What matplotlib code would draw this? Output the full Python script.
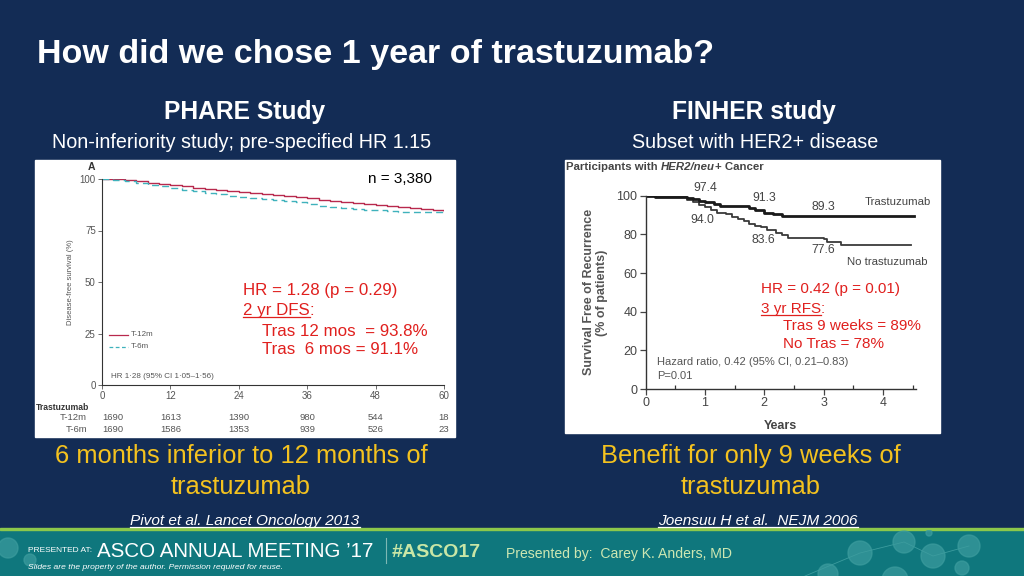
import numpy as np
import matplotlib
matplotlib.use('Agg')
import matplotlib.pyplot as plt
from matplotlib.patches import Rectangle, Circle
from matplotlib.transforms import blended_transform_factory

# PHARE study (months, disease-free survival %)
phare_months = [0, 2, 4, 6, 8, 10, 12, 14, 16, 18, 20, 22, 24, 26, 28, 30,
                32, 34, 36, 38, 40, 42, 44, 46, 48, 50, 52, 54, 56, 58, 60]
phare_12m = [100, 99.9, 99.6, 98.9, 98.3, 97.5, 96.9, 96.4, 95.8, 95.1, 94.7,
             94.3, 93.8, 93.2, 92.6, 92.1, 91.6, 91.1, 90.6, 90.0, 89.5, 88.9,
             88.5, 88.0, 87.5, 87.0, 86.6, 86.0, 85.3, 84.8, 84.6]
phare_6m = [100, 99.6, 98.9, 98.2, 97.3, 96.4, 95.6, 94.8, 94.0, 93.2, 92.5,
            91.7, 91.1, 90.6, 90.2, 89.7, 89.1, 88.6, 87.8, 86.8, 86.2, 85.8,
            85.3, 85.0, 84.8, 84.5, 84.2, 84.0, 83.9, 83.8, 83.8]
risk_ticks = [0, 12, 24, 36, 48, 60]
risk_12m = ['1690', '1613', '1390', '980', '544', '18']
risk_6m = ['1690', '1586', '1353', '939', '526', '23']

# FINHER study (years, recurrence-free %)
tras_years = [0, 0.15, 0.5, 0.7, 0.8, 0.9, 1.0, 1.15, 1.25, 1.75, 1.85, 2.0,
              2.15, 2.3, 4.52]
tras_surv = [100, 99.5, 99.5, 99.0, 98.3, 97.4, 96.8, 95.5, 94.6, 93.5, 92.4,
             91.3, 90.6, 89.3, 89.3]
notras_years = [0, 0.15, 0.55, 0.7, 0.8, 0.9, 1.0, 1.1, 1.2, 1.35, 1.45, 1.55,
                1.65, 1.75, 1.85, 1.95, 2.05, 2.2, 2.3, 2.4, 3.0, 3.05, 3.3, 4.48]
notras_surv = [100, 99.5, 99.2, 98.0, 96.5, 95.0, 94.0, 92.5, 91.3, 90.3, 88.8,
               88.0, 86.8, 85.2, 84.2, 83.6, 82.0, 80.9, 79.6, 78.3, 77.6, 76.0,
               74.3, 74.3]
finher_labels = ['97.4', '91.3', '89.3', '94.0', '83.6', '77.6']
finher_label_x = [1.0, 2.0, 3.0, 0.95, 1.98, 2.99]
finher_label_y = [104, 98.8, 94.2, 87.4, 77.1, 71.9]

W, H = 1024, 576
navy = '#132C55'
teal = '#0F777D'
yellow = '#F4C21F'
red = '#E0201E'
sans = ['Liberation Sans', 'DejaVu Sans']
narrow = ['Liberation Sans Narrow', 'Liberation Sans', 'DejaVu Sans']

fig = plt.figure(figsize=(W / 100, H / 100), dpi=100, facecolor=navy)
bg = fig.add_axes([0, 0, 1, 1])
bg.set_xlim(0, W)
bg.set_ylim(H, 0)
bg.axis('off')

# footer band
bg.add_patch(Rectangle((0, 530), W, 46, color=teal, zorder=1))
bg.add_patch(Rectangle((0, 527.5), W, 2.5, color='#8CC84B', zorder=2))
deco = [(860, 553, 12), (904, 542, 11), (933, 556, 12), (969, 546, 11),
        (962, 568, 7), (929, 533, 3), (828, 574, 10), (895, 580, 13),
        (8, 548, 10), (30, 560, 6)]
clip = Rectangle((0, 530), W, 46, transform=bg.transData)
for cx, cy, r in deco:
    c = Circle((cx, cy), r, color='#3C9C9E', alpha=0.7, zorder=2)
    bg.add_patch(c)
    c.set_clip_path(clip)
bg.plot([805, 860, 904, 933, 969], [576, 553, 542, 556, 546], color='#3C9C9E',
        lw=0.6, zorder=2, clip_path=clip)

# white panels
bg.add_patch(Rectangle((35, 160), 420, 277, color='white', zorder=1))
bg.add_patch(Rectangle((565, 160), 375, 273, color='white', zorder=1))


def txt(x, y, s, **kw):
    kw.setdefault('family', sans)
    kw.setdefault('zorder', 5)
    return bg.text(x, y, s, **kw)


txt(37, 55, 'How did we chose 1 year of trastuzumab?', color='white',
    fontsize=24.5, fontweight='bold', va='center')
txt(245, 112, 'PHARE Study', color='white', fontsize=17.7, fontweight='bold',
    ha='center', va='center')
txt(242, 142, 'Non-inferiority study; pre-specified HR 1.15', color='white',
    fontsize=14.2, ha='center', va='center')
txt(754, 112, 'FINHER study', color='white', fontsize=17.7, fontweight='bold',
    ha='center', va='center')
txt(755, 142, 'Subset with HER2+ disease', color='white', fontsize=14.2,
    ha='center', va='center')

txt(241, 456, '6 months inferior to 12 months of', color=yellow, fontsize=18.4,
    ha='center', va='center')
txt(241, 487, 'trastuzumab', color=yellow, fontsize=18.4, ha='center', va='center')
txt(751, 456, 'Benefit for only 9 weeks of', color=yellow, fontsize=18.4,
    ha='center', va='center')
txt(751, 487, 'trastuzumab', color=yellow, fontsize=18.4, ha='center', va='center')

underlined = []
underlined.append((txt(245, 525, 'Pivot et al. Lancet Oncology 2013', color='white',
                       fontsize=11.1, style='italic', ha='center', va='baseline'), 2, 'white'))
underlined.append((txt(758, 525, 'Joensuu H et al.  NEJM 2006', color='white',
                       fontsize=11.1, style='italic', ha='center', va='baseline'), 2, 'white'))

# footer text
txt(28, 552, 'PRESENTED AT:', color='white', fontsize=6.0, va='baseline',
    family=narrow)
txt(97, 557, 'ASCO ANNUAL MEETING \u201917', color='white', fontsize=14.8,
    va='baseline', family=narrow)
bg.plot([386, 386], [538, 563], color='#7DB8B4', lw=0.8, zorder=5)
txt(392, 557, '#ASCO17', color='#C8E6A6', fontsize=14, fontweight='bold',
    va='baseline', family=narrow)
txt(28, 569, 'Slides are the property of the author. Permission required for reuse.',
    color='white', fontsize=6.1, style='italic', va='baseline')
txt(506, 558, 'Presented by:  Carey K. Anders, MD', color='#CDE7B2', fontsize=10.1,
    va='baseline')


def px_axes(x0, y0, x1, y1):
    return fig.add_axes([x0 / W, 1 - y1 / H, (x1 - x0) / W, (y1 - y0) / H])


# ---------------- PHARE panel ----------------
ax1 = px_axes(102, 179, 444, 385)
ax1.set_facecolor('none')
ax1.plot(phare_months, phare_12m, drawstyle='steps-post', color='#B8294D', lw=1.0)
ax1.plot(phare_months, phare_6m, drawstyle='steps-post', color='#3FB2BC', lw=1.0,
         dashes=(5, 3))
ax1.set_xlim(0, 60)
ax1.set_ylim(0, 100)
ax1.set_xticks(risk_ticks)
ax1.set_yticks([0, 25, 50, 75, 100])
for s in ['top', 'right']:
    ax1.spines[s].set_visible(False)
for s in ['left', 'bottom']:
    ax1.spines[s].set_color('#333333')
    ax1.spines[s].set_linewidth(0.8)
ax1.tick_params(axis='both', length=3, width=0.6, colors='#555555', labelsize=7,
                pad=1.5)
for lab in ax1.get_xticklabels() + ax1.get_yticklabels():
    lab.set_family(narrow)
ax1.set_ylabel('Disease-free survival (%)', fontsize=5.5, color='#555555',
               family=narrow, labelpad=4)
ax1.text(-0.03, 1.06, 'A', transform=ax1.transAxes, fontsize=7.5,
         fontweight='bold', color='#333333', ha='center', va='center', family=sans)
ax1.plot([1.3, 4.5], [24.5, 24.5], color='#B8294D', lw=0.9)
ax1.plot([1.3, 4.5], [18.5, 18.5], color='#3FB2BC', lw=0.9, dashes=(3, 2))
ax1.text(5.0, 24.5, 'T-12m', fontsize=5.8, color='#555555', va='center', family=narrow)
ax1.text(5.0, 18.5, 'T-6m', fontsize=5.8, color='#555555', va='center', family=narrow)
ax1.text(1.6, 4.3, 'HR 1\u00b728 (95% CI 1\u00b705\u20131\u00b756)', fontsize=5.8,
         color='#555555', va='center', family=narrow)

txt(368, 179, 'n = 3,380', color='black', fontsize=11, va='center')
txt(243, 290, 'HR = 1.28 (p = 0.29)', color=red, fontsize=12.2, va='center')
underlined.append((txt(243, 315, '2 yr DFS', color=red, fontsize=12.2,
                       va='baseline'), 2, red))
txt(262, 331, 'Tras 12 mos  = 93.8%', color=red, fontsize=12.2, va='center')
txt(262, 350, 'Tras  6 mos = 91.1%', color=red, fontsize=12.2, va='center')

# risk table
txt(36, 407, 'Trastuzumab', color='#333333', fontsize=6.2, fontweight='bold',
    va='center', family=narrow)
txt(87, 418, 'T-12m', color='#555555', fontsize=6.8, ha='right', va='center',
    family=narrow)
txt(87, 429, 'T-6m', color='#555555', fontsize=6.8, ha='right', va='center',
    family=narrow)
risk_tr = blended_transform_factory(ax1.transData, bg.transData)
for i, (m, a, b) in enumerate(zip(risk_ticks, risk_12m, risk_6m)):
    ha = 'left' if i == 0 else 'center'
    ax1.text(m, 418, a, transform=risk_tr, ha=ha, va='center', fontsize=6.8,
             color='#555555', family=narrow, clip_on=False)
    ax1.text(m, 429, b, transform=risk_tr, ha=ha, va='center', fontsize=6.8,
             color='#555555', family=narrow, clip_on=False)

# ---------------- FINHER panel ----------------
ax2 = px_axes(645.7, 195.7, 645.7 + 4.55 * 59.3, 389)
ax2.set_facecolor('none')
ax2.plot(notras_years, notras_surv, drawstyle='steps-post', color='#3a3a3a', lw=1.3)
ax2.plot(tras_years, tras_surv, drawstyle='steps-post', color='#1a1a1a', lw=2.0)
ax2.set_xlim(0, 4.55)
ax2.set_ylim(0, 100)
ax2.set_xticks([0, 1, 2, 3, 4])
ax2.set_xticks(np.arange(0.5, 4.6, 1.0), minor=True)
ax2.set_yticks([0, 20, 40, 60, 80, 100])
for s in ['top', 'right']:
    ax2.spines[s].set_visible(False)
for s in ['left', 'bottom']:
    ax2.spines[s].set_color('#333333')
    ax2.spines[s].set_linewidth(1.0)
ax2.tick_params(axis='both', which='major', length=4, width=0.9, colors='#444444',
                labelsize=9, pad=2)
ax2.tick_params(axis='x', which='minor', direction='in', length=3, width=0.9,
                color='#333333')
for lab in ax2.get_xticklabels() + ax2.get_yticklabels():
    lab.set_family(narrow)
ax2.set_xlabel('Years', fontsize=9, fontweight='bold', color='#444444',
               family=narrow, labelpad=8)
ax2.set_ylabel('Survival Free of Recurrence\n(% of patients)', fontsize=9,
               fontweight='bold', color='#555555', family=narrow, labelpad=6,
               linespacing=1.1)
for s, x, y in zip(finher_labels, finher_label_x, finher_label_y):
    ax2.text(x, y, s, fontsize=8.8, color='#444444', ha='center', va='center',
             family=narrow)
ax2.text(3.69, 96.7, 'Trastuzumab', fontsize=8.2, color='#444444', va='center',
         family=narrow)
ax2.text(3.40, 65.7, 'No trastuzumab', fontsize=8.2, color='#444444', va='center',
         family=narrow)
ax2.text(0.19, 13.9, 'Hazard ratio, 0.42 (95% CI, 0.21\u20130.83)', fontsize=8,
         color='#555555', va='center', family=narrow)
ax2.text(0.19, 6.7, 'P=0.01', fontsize=8, color='#555555', va='center',
         family=narrow)

# panel title with italic part
p1 = txt(566, 167, 'Participants with ', color='#444444', fontsize=8.2,
         fontweight='bold', va='center', family=narrow)
fig.canvas.draw()
inv = bg.transData.inverted()
x_end = inv.transform(p1.get_window_extent().corners()[2])[0]
p2 = txt(x_end, 167, 'HER2/neu', color='#444444', fontsize=8.2, fontweight='bold',
         style='italic', va='center', family=narrow)
fig.canvas.draw()
x_end = inv.transform(p2.get_window_extent().corners()[2])[0]
txt(x_end, 167, '+ Cancer', color='#444444', fontsize=8.2, fontweight='bold',
    va='center', family=narrow)

txt(761, 289, 'HR = 0.42 (p = 0.01)', color=red, fontsize=11, va='center')
underlined.append((txt(761, 313, '3 yr RFS', color=red, fontsize=11,
                       va='baseline'), 2, red))
txt(783, 326, 'Tras 9 weeks = 89%', color=red, fontsize=11, va='center')
txt(783, 344, 'No Tras = 78%', color=red, fontsize=11, va='center')

# underlines, plus colons after the underlined labels
fig.canvas.draw()
for t, off, col in underlined:
    bb = t.get_window_extent()
    xa = inv.transform((bb.x0, bb.y0))[0]
    xb = inv.transform((bb.x1, bb.y0))[0]
    y = t.get_position()[1] + off
    bg.plot([xa, xb], [y, y], color=col, lw=0.9, zorder=6)
    if t.get_text() in ('2 yr DFS', '3 yr RFS'):
        txt(xb, y - off, ':', color=col, fontsize=t.get_fontsize(), va='baseline')

fig.savefig('out.png', dpi=100, facecolor=navy)
